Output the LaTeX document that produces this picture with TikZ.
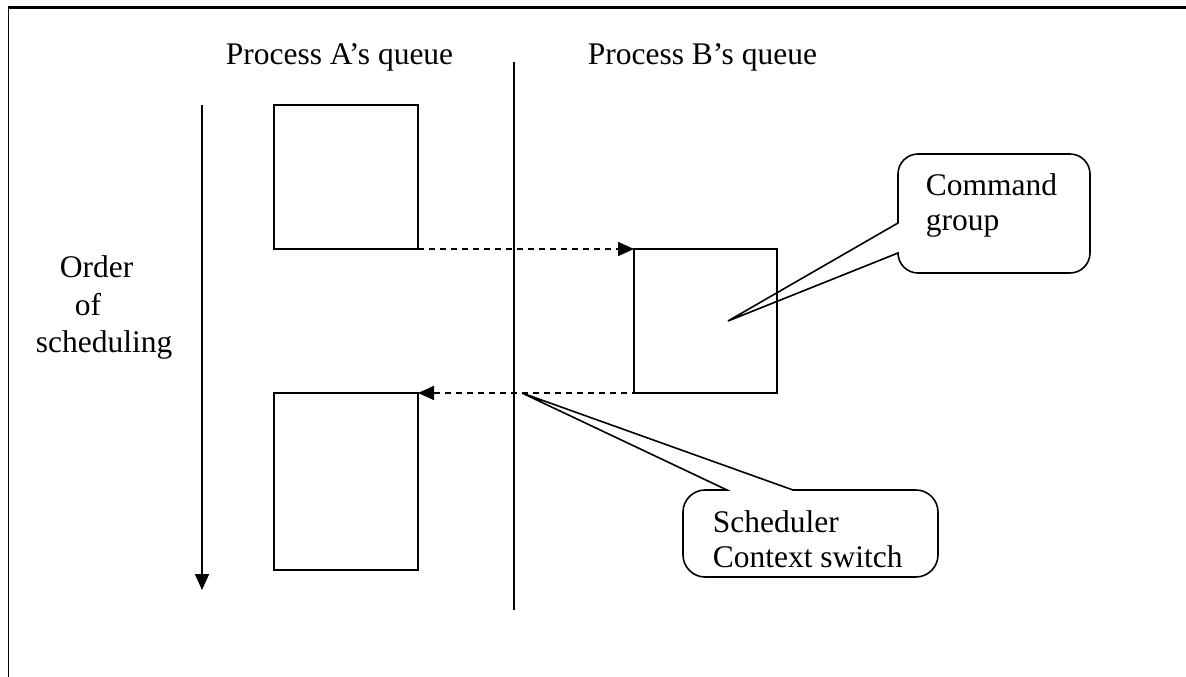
\documentclass[tikz,border=0pt]{standalone}
\usepackage{fontspec}
\setmainfont{Liberation Serif}
\usetikzlibrary{arrows.meta}
\begin{document}
\begin{tikzpicture}[x=1pt,y=-1pt, line width=1.6pt,
  qbox/.style={draw, minimum width=144pt, minimum height=144pt, outer sep=0pt, inner sep=0pt},
  lbl/.style={anchor=base west, inner sep=0pt, font=\fontsize{31.5}{36}\selectfont},
  darrow/.style={dash pattern=on 6pt off 5pt, -{Triangle[length=16pt,width=14pt]}},
  sarrow/.style={-{Triangle[length=16pt,width=14pt]}},
  callout/.style={draw, line join=miter}
]
\useasboundingbox (0,0) rectangle (1186,677);
% frame
\draw[line width=2.5pt] (1186,7.5) -- (8.5,7.5);
\draw[line width=1.8pt] (8.5,6.5) -- (8.5,677);

% headings
\node[lbl] (ha) at (225,64) {Process A’s queue};
\node[lbl] (hb) at (587,64) {Process B’s queue};

% divider
\coordinate (dtop) at (514,62);
\coordinate (dbot) at (514,610);
\draw (dtop) -- (dbot);

% order arrow
\coordinate (otop) at (202,105);
\coordinate (obot) at (202,590);
\draw[sarrow] (otop) -- (obot);
\node[lbl] (o1) at (59,277) {Order};
\node[lbl] (o2) at (74,315) {of};
\node[lbl] (o3) at (35,352) {scheduling};

% boxes
\node[qbox, anchor=north west] (a1) at (274,105) {};
\node[qbox, anchor=north west, minimum height=177pt] (a2) at (274,393) {};
\node[qbox, anchor=north west, minimum width=143pt] (b1) at (634,249) {};

% dashed arrows
\draw[darrow] (a1.south east) -- (b1.north west);
\coordinate (bx) at (682,393);
\draw[darrow] (bx) -- (a2.north east);

% command group callout
\coordinate (ctip) at (728,321);
\draw[callout] (898,223) -- (ctip) -- (898,253)
  .. controls (898,264) and (907,273) .. (918,273) -- (1070,273)
  .. controls (1081,273) and (1090,264) .. (1090,253) -- (1090,174)
  .. controls (1090,163) and (1081,154) .. (1070,154) -- (918,154)
  .. controls (907,154) and (898,163) .. (898,174) -- cycle;
\node[lbl] (c1) at (925,195) {Command};
\node[lbl] (c2) at (925,230) {group};

% scheduler callout
\coordinate (stip) at (522,393);
\draw[callout] (727,490) -- (stip) -- (793,490) -- (916,490)
  .. controls (928,490) and (938,500) .. (938,512) -- (938,555)
  .. controls (938,567) and (928,577) .. (916,577) -- (705,577)
  .. controls (693,577) and (683,567) .. (683,555) -- (683,512)
  .. controls (683,500) and (693,490) .. (705,490) -- cycle;
\node[lbl] (s1) at (712,532) {Scheduler};
\node[lbl] (s2) at (712,567) {Context switch};
\end{tikzpicture}
\end{document}
